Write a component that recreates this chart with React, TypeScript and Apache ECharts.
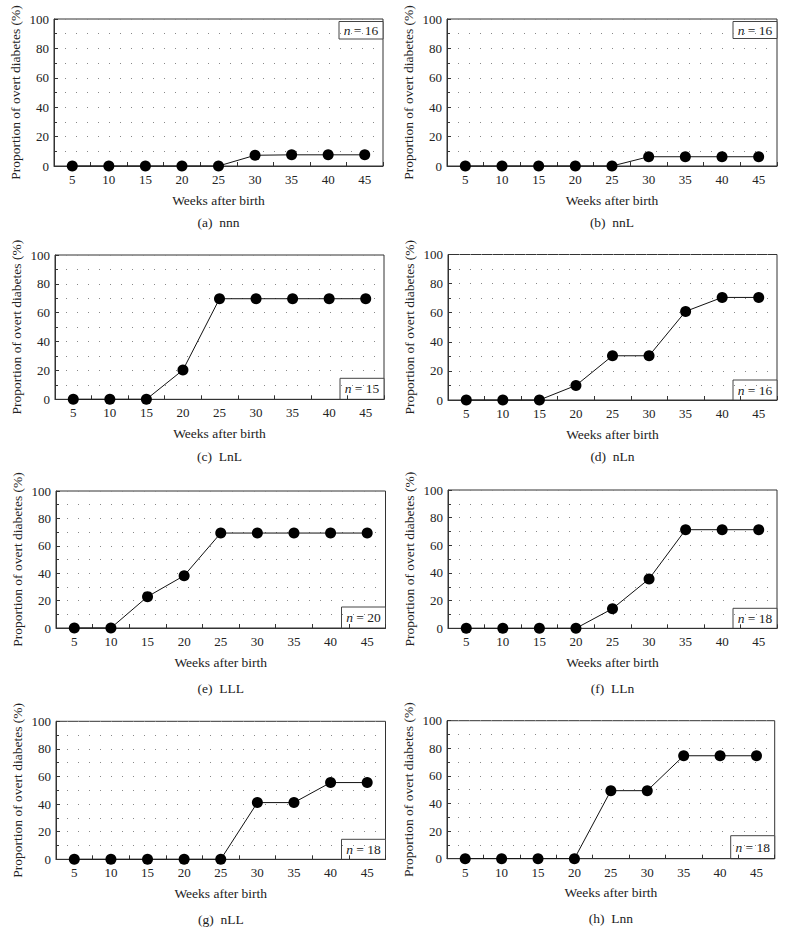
import React, { useEffect, useRef } from "react";
import * as echarts from "echarts";

const weeks = ["5", "10", "15", "20", "25", "30", "35", "40", "45"];

const nnn = [0, 0, 0, 0, 0, 7.3, 7.6, 7.6, 7.6];
const nnL = [0, 0, 0, 0, 0, 6.3, 6.3, 6.3, 6.3];
const LnL = [0, 0, 0, 20.3, 69.7, 69.7, 69.7, 69.7, 69.7];
const nLn = [0, 0, 0, 10, 30.4, 30.4, 60.9, 70.5, 70.5];
const LLL = [0, 0, 22.9, 38.2, 69.3, 69.3, 69.3, 69.3, 69.3];
const LLn = [0, 0, 0, 0, 14.2, 35.7, 71.3, 71.3, 71.3];
const nLL = [0, 0, 0, 0, 0, 41.1, 41.1, 55.6, 55.6];
const Lnn = [0, 0, 0, 0, 49.3, 49.3, 74.6, 74.6, 74.6];

const groupNames = ["nnn", "nnL", "LnL", "nLn", "LLL", "LLn", "nLL", "Lnn"];
const letters = ["a", "b", "c", "d", "e", "f", "g", "h"];
const sampleSizes = [16, 16, 15, 16, 20, 18, 18, 18];
const seriesValues = [nnn, nnL, LnL, nLn, LLL, LLn, nLL, Lnn];

const xName = "Weeks after birth";
const yName = "Proportion of overt diabetes (%)";

// layout (px)
const layout = [
  { left: 54, top: 19, width: 329, height: 147, cap: 56.7, box: "top", bh: 17.5 },
  { left: 447, top: 19, width: 330, height: 147, cap: 56.7, box: "top", bh: 17 },
  { left: 55, top: 255, width: 329, height: 144.3, cap: 56.7, box: "bottom", bh: 21 },
  { left: 448, top: 254.5, width: 329, height: 145.5, cap: 56.7, box: "bottom", bh: 20 },
  { left: 56, top: 491, width: 329.5, height: 137, cap: 60, box: "bottom", bh: 21 },
  { left: 448, top: 490, width: 329, height: 138.3, cap: 60, box: "bottom", bh: 20 },
  { left: 56, top: 721.3, width: 329.5, height: 138, cap: 60, box: "bottom", bh: 20 },
  { left: 447, top: 720.7, width: 327.7, height: 138, cap: 60, box: "bottom", bh: 23 },
];

const FONT = "Liberation Serif";
const FS = 13;
const NFS = 13.5;

export default function App() {
  const ref = useRef<HTMLDivElement>(null);
  useEffect(() => {
    if (!ref.current) return;
    const chart = echarts.init(ref.current, undefined, { renderer: "svg" });
    const grids: any[] = [];
    const xAxes: any[] = [];
    const yAxes: any[] = [];
    const series: any[] = [];
    const graphics: any[] = [];
    layout.forEach((L, i) => {
      grids.push({
        left: L.left,
        top: L.top,
        width: L.width,
        height: L.height,
        show: true,
        borderColor: "#333",
        borderWidth: 1,
        backgroundColor: "transparent",
      });
      xAxes.push({
        type: "category",
        gridIndex: i,
        data: weeks,
        boundaryGap: true,
        name: xName,
        nameLocation: "middle",
        nameGap: 27,
        nameTextStyle: { fontFamily: FONT, fontSize: NFS, color: "#222" },
        axisLine: { show: true, lineStyle: { color: "#333", width: 1 } },
        axisTick: {
          show: true,
          inside: true,
          length: 4,
          interval: 0,
          alignWithLabel: false,
          lineStyle: { color: "#333" },
        },
        axisLabel: {
          interval: 0,
          margin: 7,
          fontFamily: FONT,
          fontSize: FS,
          color: "#222",
        },
        splitLine: { show: false },
      });
      yAxes.push({
        type: "value",
        gridIndex: i,
        min: 0,
        max: 100,
        interval: 20,
        name: yName,
        nameLocation: "middle",
        nameGap: 32,
        nameTextStyle: { fontFamily: FONT, fontSize: NFS, color: "#222" },
        axisLine: { show: true, lineStyle: { color: "#333", width: 1 } },
        axisTick: { show: true, inside: true, length: 4, lineStyle: { color: "#333" } },
        minorTick: { show: true, splitNumber: 2, length: 3, lineStyle: { color: "#333" } },
        axisLabel: { margin: 5, fontFamily: FONT, fontSize: FS, color: "#222" },
        splitLine: {
          show: true,
          lineStyle: { type: [1, 10], color: "#888", width: 1 },
        },
        minorSplitLine: {
          show: true,
          lineStyle: { type: [1, 10], color: "#888", width: 1 },
        },
      });
      series.push({
        type: "line",
        xAxisIndex: i,
        yAxisIndex: i,
        data: seriesValues[i],
        symbol: "circle",
        symbolSize: 11,
        showSymbol: true,
        itemStyle: { color: "#000" },
        lineStyle: { color: "#111", width: 1 },
        z: 3,
      });
      const cx = L.left + L.width / 2;
      graphics.push({
        type: "text",
        x: cx,
        y: L.top + L.height + L.cap,
        style: {
          text: `(${letters[i]})\u2002${groupNames[i]}`,
          fontFamily: FONT,
          fontSize: NFS,
          fill: "#222",
          align: "center",
          verticalAlign: "middle",
        },
      });
      const bw = 44;
      const right = L.left + L.width;
      const by = L.box === "top" ? L.top + 2.5 : L.top + L.height - L.bh;
      graphics.push({
        type: "group",
        x: right - bw,
        y: by,
        z: 10,
        children: [
          {
            type: "rect",
            shape: { x: 0, y: 0, width: bw, height: L.bh },
            style: { fill: "#fff", stroke: "#444", lineWidth: 1 },
          },
          {
            type: "text",
            x: bw / 2,
            y: L.bh / 2,
            style: {
              text: `{i|n} = ${sampleSizes[i]}`,
              fontFamily: FONT,
              fontSize: NFS,
              fill: "#222",
              align: "center",
              verticalAlign: "middle",
              rich: {
                i: { fontStyle: "italic", fontFamily: FONT, fontSize: NFS, fill: "#222" },
              },
            },
          },
        ],
      });
    });
    chart.setOption({
      animation: false,
      backgroundColor: "#fff",
      grid: grids,
      xAxis: xAxes,
      yAxis: yAxes,
      series,
      graphic: graphics,
    });
    return () => chart.dispose();
  }, []);
  return (
    <div
      ref={ref}
      style={{ position: "absolute", left: 0, top: 0, width: 786, height: 933 }}
    />
  );
}
